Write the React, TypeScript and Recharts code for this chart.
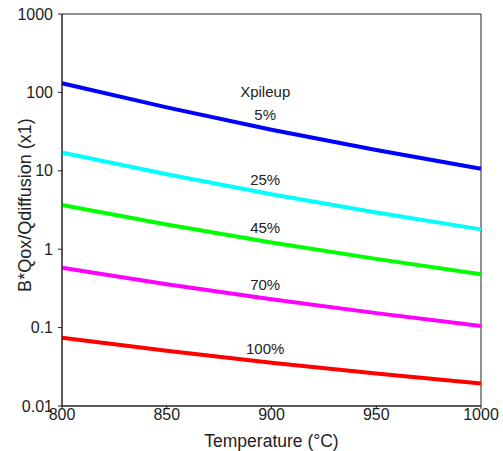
import {
  LineChart,
  Line,
  XAxis,
  YAxis,
  ReferenceArea,
  ReferenceDot,
  Label,
} from "recharts";

const temperatures = [800, 850, 900, 950, 1000];

const pileup5 = [131, 64.4, 33.4, 18.4, 10.6];
const pileup25 = [17.1, 9.04, 5.02, 2.94, 1.79];
const pileup45 = [3.66, 2.07, 1.22, 0.753, 0.48];
const pileup70 = [0.58, 0.358, 0.23, 0.153, 0.105];
const pileup100 = [0.074, 0.0507, 0.0357, 0.026, 0.0194];

const xTicks = [800, 850, 900, 950, 1000];
const yTicks = [0.01, 0.1, 1, 10, 100, 1000];

// label anchors in data coordinates
const curveLabels = [
  { text: "Xpileup", x: 897, y: 101 },
  { text: "5%", x: 897, y: 51.8 },
  { text: "25%", x: 897, y: 7.65 },
  { text: "45%", x: 897, y: 1.87 },
  { text: "70%", x: 897, y: 0.349 },
  { text: "100%", x: 897, y: 0.0531 },
];

const SERIES = [
  { key: "p5", values: pileup5, color: "#0000ff" },
  { key: "p25", values: pileup25, color: "#00ffff" },
  { key: "p45", values: pileup45, color: "#00ff00" },
  { key: "p70", values: pileup70, color: "#ff00ff" },
  { key: "p100", values: pileup100, color: "#ff0000" },
];

const FONT = "'Liberation Sans', Arial, sans-serif";
const INK = "#222";

const chartData = temperatures.map((t, i) => {
  const row: Record<string, number> = { t };
  SERIES.forEach((s) => {
    row[s.key] = s.values[i];
  });
  return row;
});

export default function App() {
  return (
    <div style={{ position: "absolute", left: 0, top: 0, fontFamily: FONT }}>
      <LineChart
        width={503}
        height={451}
        data={chartData}
        margin={{ top: 14, right: 22, bottom: 0, left: 0 }}
      >
        <XAxis
          dataKey="t"
          type="number"
          domain={[800, 1000]}
          ticks={xTicks}
          height={45}
          stroke={INK}
          tickSize={3}
          tickMargin={0}
          tick={{ fill: INK, fontSize: 16, fontFamily: FONT }}
        >
          <Label
            value="Temperature (°C)"
            position="insideBottom"
            offset={4}
            style={{ fill: INK, fontSize: 17.5, fontFamily: FONT }}
          />
        </XAxis>
        <YAxis
          scale="log"
          domain={[0.01, 1000]}
          ticks={yTicks}
          allowDataOverflow
          width={62}
          stroke={INK}
          tickSize={4}
          tickMargin={5}
          tick={{ fill: INK, fontSize: 16, fontFamily: FONT }}
        >
          <Label
            value="B*Qox/Qdiffusion (x1)"
            angle={-90}
            position="center"
            dx={-6}
            dy={-5}
            style={{ fill: INK, fontSize: 18, fontFamily: FONT, textAnchor: "middle" }}
          />
        </YAxis>
        <ReferenceArea
          x1={800}
          x2={1000}
          y1={0.01}
          y2={1000}
          fill="none"
          stroke={INK}
          strokeWidth={1}
          ifOverflow="visible"
        />
        {SERIES.map((s) => (
          <Line
            key={s.key}
            dataKey={s.key}
            stroke={s.color}
            strokeWidth={4}
            dot={false}
            type="linear"
            isAnimationActive={false}
          />
        ))}
        {curveLabels.map((l) => (
          <ReferenceDot
            key={l.text}
            x={l.x}
            y={l.y}
            r={0}
            fill="none"
            stroke="none"
            label={{
              value: l.text,
              position: "center",
              fill: INK,
              fontSize: 15,
              fontFamily: FONT,
            }}
          />
        ))}
      </LineChart>
    </div>
  );
}
